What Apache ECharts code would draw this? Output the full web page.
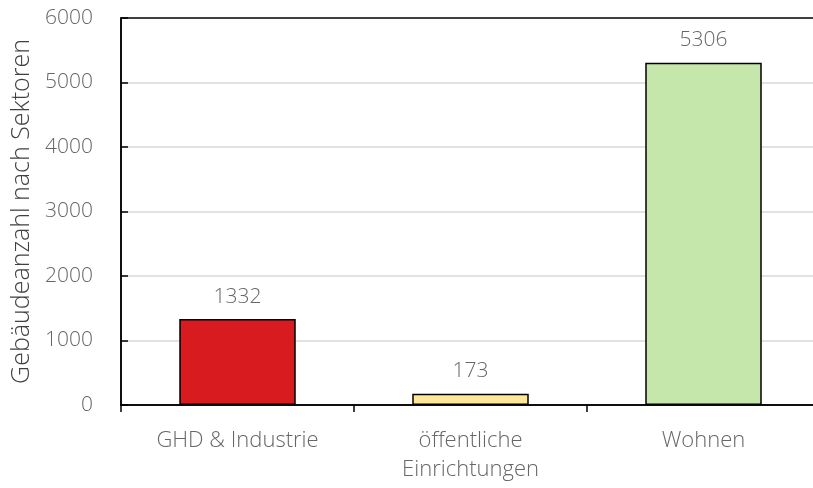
<!DOCTYPE html>
<html><head><meta charset="utf-8">
<script src="https://cdn.jsdelivr.net/npm/echarts@6/dist/echarts.min.js"></script>
<style>html,body{margin:0;padding:0;background:#fff}#c{width:813px;height:488px}</style>
</head><body><div id="c"></div>
<script>
const categories = ['GHD & Industrie', 'öffentliche\nEinrichtungen', 'Wohnen'];
const values = [1332, 173, 5306];
const barColors = ['#d81b1e', '#ffe79a', '#c5e7ab'];
const yTicks = [0, 1000, 2000, 3000, 4000, 5000, 6000];
const yName = 'Gebäudeanzahl nach Sektoren';

const font = '"Open Sans", "Segoe UI", sans-serif';
const chart = echarts.init(document.getElementById('c'), null, {renderer: 'canvas'});
chart.setOption({
  animation: false,
  grid: {left: 121, top: 18, bottom: 83, width: 699, outerBoundsMode: 'none', containLabel: false, show: true, borderColor: '#000', borderWidth: 1.5, backgroundColor: 'transparent', z: 3},
  xAxis: {
    type: 'category', data: categories,
    axisLine: {lineStyle: {color: '#000', width: 1.5}},
    axisTick: {show: true, inside: false, length: 7, lineStyle: {color: '#000', width: 1.5}},
    axisLabel: {color: '#666', fontFamily: font, fontSize: 22, margin: 21, lineHeight: 29, fontWeight: 300}
  },
  yAxis: {
    type: 'value', min: yTicks[0], max: yTicks[yTicks.length - 1], interval: 1000,
    name: yName, nameLocation: 'middle', nameGap: 86, nameRotate: 90,
    nameTextStyle: {color: '#404040', fontFamily: font, fontSize: 25, fontWeight: 300},
    axisLine: {show: true, lineStyle: {color: '#000', width: 1.5}},
    axisTick: {show: true, inside: true, length: 7, lineStyle: {color: '#000', width: 1.5}},
    axisLabel: {color: '#666', fontFamily: font, fontSize: 21, margin: 28, fontWeight: 300, formatter: v => String(v)},
    splitLine: {show: true, showMaxLine: false, showMinLine: false, lineStyle: {color: '#d9d9d9', width: 1.5}}
  },
  series: [{
    type: 'bar', barWidth: '50%',
    data: values.map((v, i) => ({value: v, itemStyle: {color: barColors[i]}})),
    itemStyle: {borderColor: '#000', borderWidth: 1.5},
    label: {show: true, position: 'top', distance: 12, color: '#666', fontFamily: font, fontSize: 21, fontWeight: 300}
  }]
});
</script></body></html>
